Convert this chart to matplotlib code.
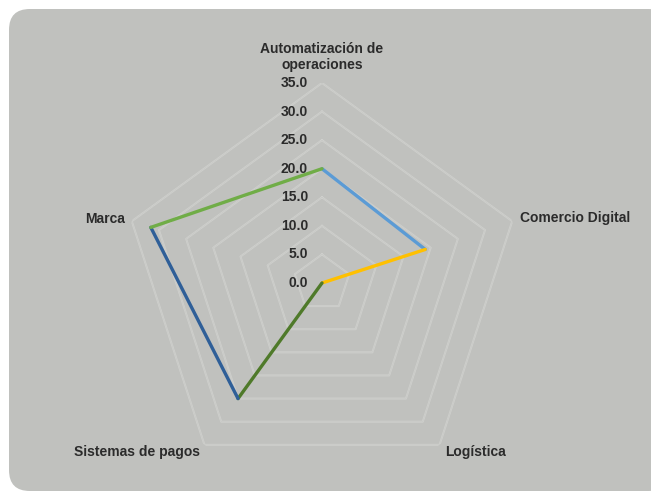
import numpy as np
import matplotlib
matplotlib.use("Agg")
import matplotlib.pyplot as plt
from matplotlib.patches import FancyBboxPatch

plt.rcParams["font.family"] = ["Liberation Sans", "DejaVu Sans"]

# data
categories = ["Automatización de\noperaciones", "Comercio Digital", "Logística",
              "Sistemas de pagos", "Marca"]
values = [20.0, 19.0, 0.0, 25.0, 31.5]
ticks = [0, 5, 10, 15, 20, 25, 30, 35]
segment_colors = ["#5b9bd5", "#ffc000", "#4f7a2a", "#2f5f98", "#70ad47"]

bg = "#c0c1be"
grid_col = "#d0d1ce"
text_col = "#2b2b2b"
fs = 10

fig = plt.figure(figsize=(6.51, 4.92), dpi=100)
fig.patch.set_facecolor("white")
fig.patches.append(FancyBboxPatch((9 / 651, 1 / 492), 660 / 651, 482 / 492,
                                  boxstyle="round,pad=0,rounding_size=0.032",
                                  transform=fig.transFigure, facecolor=bg,
                                  edgecolor="none", zorder=-10, mutation_aspect=651 / 492))

cx, cy, rad = 322, 283, 200
ax = fig.add_axes([(cx - rad) / 651, (492 - cy - rad) / 492, 2 * rad / 651, 2 * rad / 492],
                  projection="polar")
ax.set_theta_offset(np.pi / 2)
ax.set_theta_direction(-1)
ax.set_ylim(0, 35)
ax.set_facecolor("none")
ax.grid(False)
ax.spines["polar"].set_visible(False)
ax.set_xticks([])
ax.set_yticks([])

n = len(categories)
angles = np.arange(n) * 2 * np.pi / n
closed = np.append(angles, angles[0])

# pentagon rings
for t in ticks[1:]:
    ax.plot(closed, [t] * (n + 1), color=grid_col, lw=1.4, zorder=1)
    ax.plot(closed, [t] * (n + 1), color="#c6c7c4", lw=0.4, zorder=1)

# data line, one colour per segment
for i in range(n):
    j = (i + 1) % n
    ax.plot([angles[i], angles[j]], [values[i], values[j]],
            color=segment_colors[i], lw=2.4, solid_capstyle="round", zorder=3)

# radial tick labels on the top axis
for t in ticks:
    ax.annotate(f"{t:.1f}", xy=(0, t), xytext=(-10, 0), textcoords="offset points",
                ha="right", va="center", fontsize=fs, fontweight="bold",
                color=text_col, zorder=4)

# category labels
fig.text(322 / 651, 1 - 57 / 492, categories[0], ha="center", va="center",
         fontsize=fs, fontweight="bold", color=text_col, linespacing=1.15)
fig.text(520 / 651, 1 - 218 / 492, categories[1], ha="left", va="center",
         fontsize=fs, fontweight="bold", color=text_col)
fig.text(475 / 651, 1 - 452 / 492, categories[2], ha="center", va="center",
         fontsize=fs, fontweight="bold", color=text_col)
fig.text(137 / 651, 1 - 452 / 492, categories[3], ha="center", va="center",
         fontsize=fs, fontweight="bold", color=text_col)
fig.text(125 / 651, 1 - 219 / 492, categories[4], ha="right", va="center",
         fontsize=fs, fontweight="bold", color=text_col)

fig.savefig("out.png", dpi=100, facecolor=fig.get_facecolor())
